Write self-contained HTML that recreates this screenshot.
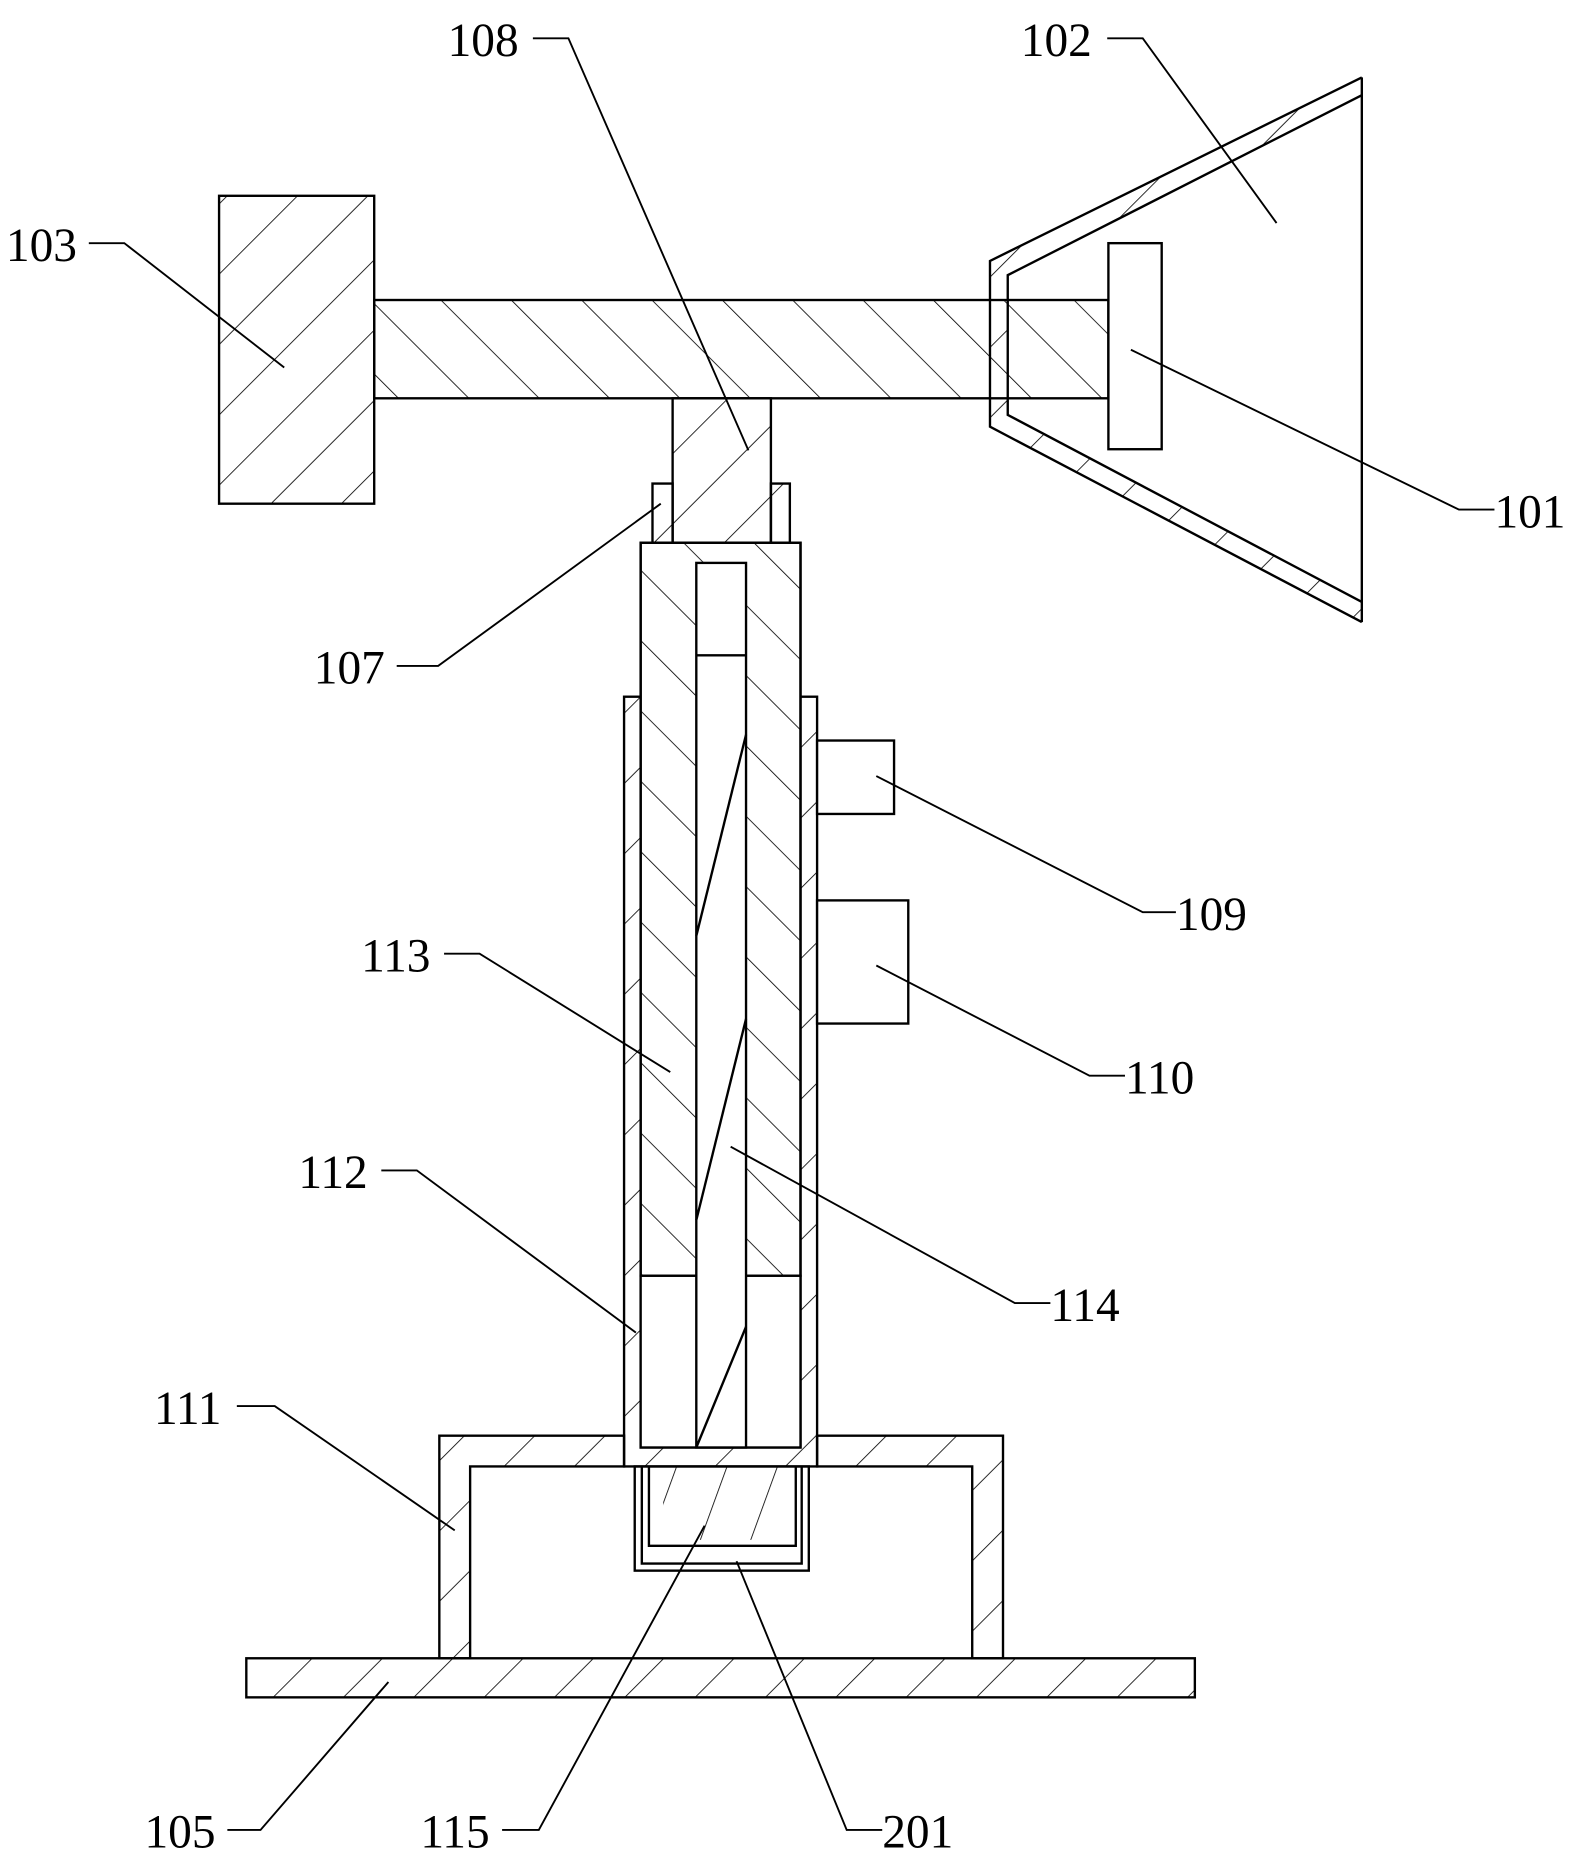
<!DOCTYPE html>
<html><head><meta charset="utf-8"><style>
html,body{margin:0;padding:0;background:#fff;}
svg{display:block;}
text{font-family:"Liberation Serif",serif;font-size:40px;fill:#000;}
</style></head><body>
<svg width="1588" height="1860" viewBox="0 0 1341 1570" xmlns="http://www.w3.org/2000/svg">
<defs>
<pattern id="hf" patternUnits="userSpaceOnUse" width="42" height="42" patternTransform="rotate(45)">
<line x1="0" y1="0" x2="0" y2="42" stroke="#000" stroke-width="1.4"/></pattern>
<pattern id="hb" patternUnits="userSpaceOnUse" width="42" height="42" patternTransform="rotate(-45)">
<line x1="0" y1="0" x2="0" y2="42" stroke="#000" stroke-width="1.4"/></pattern>
<pattern id="hs" patternUnits="userSpaceOnUse" width="40" height="40" patternTransform="rotate(20)">
<line x1="0" y1="0" x2="0" y2="40" stroke="#000" stroke-width="1.4"/></pattern>
</defs>
<g fill="none" stroke="#000" stroke-width="2">
<path d="M1150,65 L836,220 L836,360 L1150,525" fill="none"/>
<path d="M1150,80 L851,232 L851,350 L1150,508" fill="none"/>
<path d="M1150,65 L836,220 L836,360 L1150,525 L1150,508 L851,350 L851,232 L1150,80 Z" fill="url(#hf)" stroke="none"/>
<line x1="1150" y1="65" x2="1150" y2="525"/>
<rect x="316" y="253" width="620" height="83" fill="url(#hb)"/>
<rect x="185" y="165" width="131" height="260" fill="url(#hf)"/>
<rect x="936" y="205" width="45" height="174" fill="#fff"/>
<rect x="568" y="336" width="83" height="122" fill="url(#hf)"/>
<rect x="551" y="408" width="17" height="50" fill="url(#hf)"/>
<rect x="651" y="408" width="16" height="50" fill="url(#hf)"/>
<path d="M371,1400 L371,1212 L527,1212 L527,1238 L397,1238 L397,1400 Z" fill="url(#hf)"/>
<path d="M847,1400 L847,1212 L690,1212 L690,1238 L821,1238 L821,1400 Z" fill="url(#hf)"/>
<rect x="536" y="1238" width="147" height="88" fill="#fff"/>
<path d="M542,1238 L542,1320 L677,1320 L677,1238" />
<path d="M548,1238 L548,1305 L672,1305 L672,1238" />
<rect x="560" y="1238" width="100" height="62" fill="url(#hs)" stroke="none"/>
<rect x="527" y="588" width="163" height="650" fill="url(#hf)"/>
<rect x="541" y="458" width="135" height="764" fill="#fff"/>
<rect x="541" y="458" width="135" height="619" fill="url(#hb)"/>
<rect x="541" y="1077" width="135" height="145" fill="#fff"/>
<rect x="588" y="475" width="42" height="747" fill="#fff"/>
<line x1="588" y1="553" x2="630" y2="553"/>
<line x1="588" y1="790" x2="630" y2="620"/>
<line x1="588" y1="1030" x2="630" y2="860"/>
<line x1="588" y1="1222" x2="630" y2="1120"/>
<!-- 109 / 110 -->
<rect x="690" y="625" width="65" height="62" fill="#fff"/>
<rect x="690" y="760" width="77" height="104" fill="#fff"/>
<rect x="208" y="1400" width="801" height="33" fill="url(#hf)"/>
<g stroke-width="1.6">
<polyline points="75,205 105,205 240,310"/>
<polyline points="450,32 480,32 632,380"/>
<polyline points="935,32 965,32 1078,188"/>
<polyline points="955,295 1232,430 1262,430"/>
<polyline points="335,562 370,562 558,425"/>
<polyline points="740,655 965,770 993,770"/>
<polyline points="740,815 920,908 950,908"/>
<polyline points="375,805 405,805 566,905"/>
<polyline points="617,968 857,1100 887,1100"/>
<polyline points="322,988 352,988 537,1125"/>
<polyline points="200,1187 232,1187 384,1292"/>
<polyline points="192,1545 220,1545 328,1420"/>
<polyline points="424,1545 455,1545 595,1288"/>
<polyline points="745,1545 715,1545 622,1318"/>
</g>
</g>
<text x="5" y="220">103</text>
<text x="378" y="47">108</text>
<text x="862" y="47">102</text>
<text x="1262" y="445">101</text>
<text x="265" y="577">107</text>
<text x="993" y="785">109</text>
<text x="950" y="923">110</text>
<text x="305" y="820">113</text>
<text x="887" y="1115">114</text>
<text x="252" y="1003">112</text>
<text x="130" y="1202">111</text>
<text x="122" y="1560">105</text>
<text x="355" y="1560">115</text>
<text x="745" y="1560">201</text>
</svg>
</body></html>
